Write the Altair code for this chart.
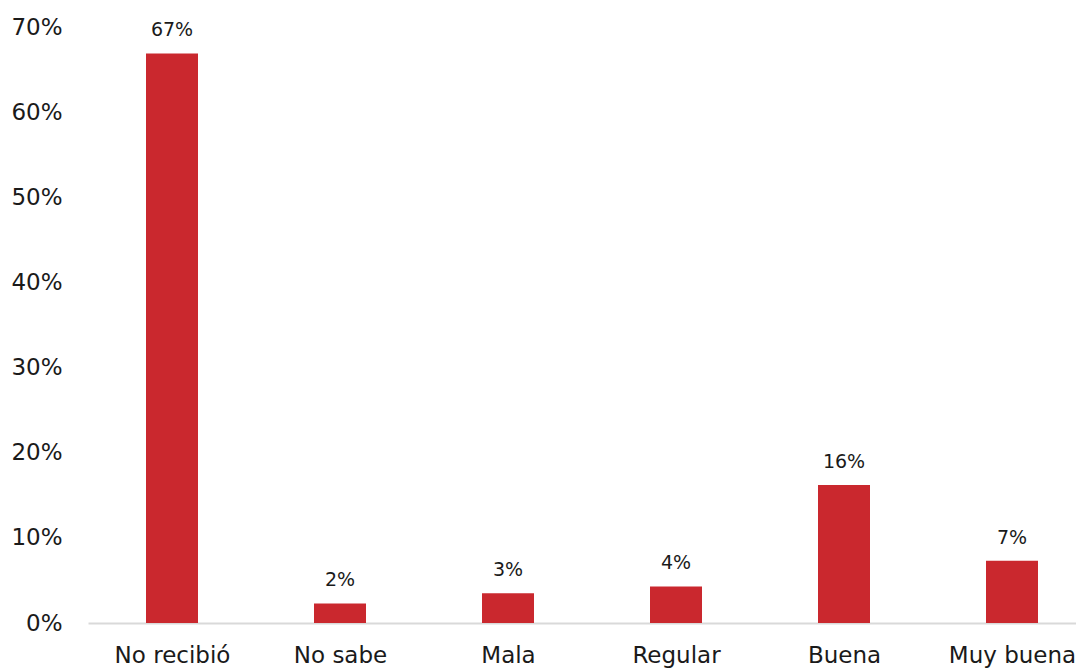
import altair as alt
import pandas as pd
import json

categories = ["No recibió", "No sabe", "Mala", "Regular", "Buena", "Muy buena"]
values = [66.9, 2.3, 3.5, 4.3, 16.2, 7.3]
labels = ["67%", "2%", "3%", "4%", "16%", "7%"]
y_ticks = [0, 10, 20, 30, 40, 50, 60, 70]

df = pd.DataFrame({"idx": list(range(len(categories))), "cat": categories,
                   "val": values, "lab": labels})

FONT = "DejaVu Sans"
TXT = "#1a1a1a"
PLOT_W = 988

# each category step is 168 px -> domain spans PLOT_W/168 units
x_scale = alt.Scale(domain=[-0.5, PLOT_W / 168 - 0.5], nice=False, zero=False, padding=0)
y_scale = alt.Scale(domain=[0, 70], nice=False, padding=0)
x = alt.X("idx:Q", title=None, scale=x_scale,
          axis=alt.Axis(values=list(range(len(categories))),
                        labelExpr=json.dumps(categories, ensure_ascii=False) + "[datum.value]",
                        labelAngle=0, labelFontSize=23, labelFont=FONT, labelColor=TXT,
                        labelPadding=21, ticks=False, domain=True, domainColor="#d9d9d9",
                        domainWidth=2, labelOverlap=False, labelBound=False,
                        labelFlush=False, grid=False))
y = alt.Y("val:Q", title=None, scale=y_scale,
          axis=alt.Axis(values=y_ticks, labelExpr="datum.value + '%'", labelFontSize=23,
                        labelFont=FONT, labelColor=TXT, labelPadding=26, ticks=False,
                        domain=False, grid=False))

bars = alt.Chart(df).mark_bar(size=52, color="#CA282E").encode(x=x, y=y)
text = alt.Chart(df).mark_text(font=FONT, fontSize=19, color=TXT, baseline="alphabetic",
                                dy=-17).encode(x=alt.X("idx:Q", scale=x_scale),
                                               y=alt.Y("val:Q", scale=y_scale), text="lab:N")

chart = (bars + text).properties(
    width=PLOT_W, height=596,
    autosize=alt.AutoSizeParams(type="none"),
    padding={"left": 80, "top": 19, "right": 0, "bottom": 54},
).configure(background="white").configure_view(stroke=None)

chart.save("out.html", embed_options={"renderer": "svg", "actions": False})
